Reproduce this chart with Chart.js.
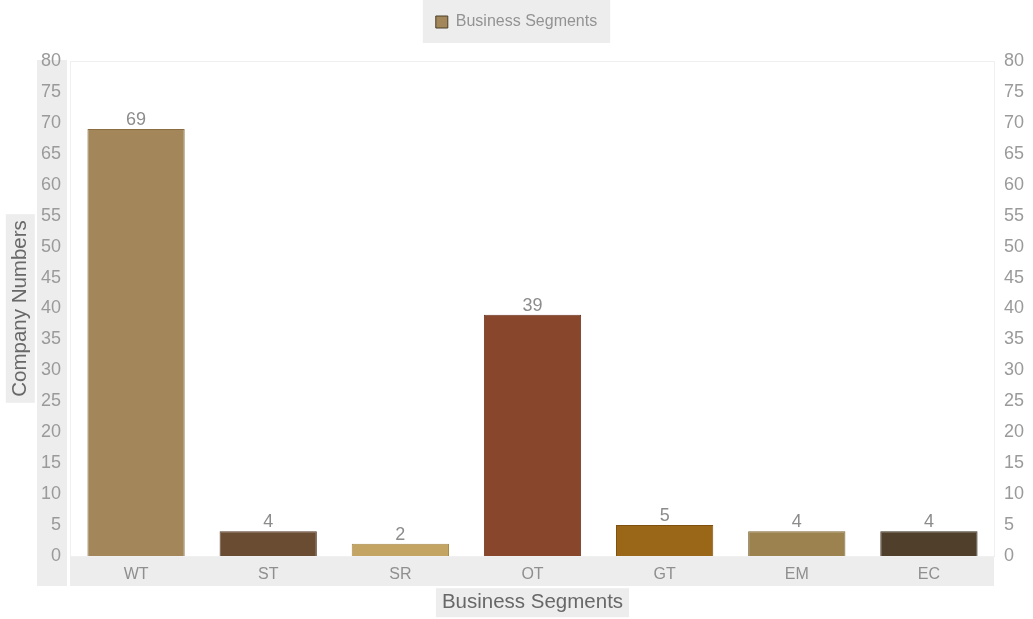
<!DOCTYPE html>
<html>
<head>
<meta charset="utf-8">
<script src="https://cdn.jsdelivr.net/npm/chart.js@4"></script>
<style>
  html, body { margin: 0; padding: 0; background: #ffffff; }
  #wrap { width: 1033px; height: 619px; position: relative; }
</style>
</head>
<body>
<div id="wrap"><canvas id="c" width="1033" height="619"></canvas></div>
<script>
const categories = ['WT', 'ST', 'SR', 'OT', 'GT', 'EM', 'EC'];
const values = [69, 4, 2, 39, 5, 4, 4];
const barColors = ['#a3875a', '#6a4c33', '#c4a462', '#88472c', '#9a6618', '#9b824e', '#4f3f2b'];
const barBorders = ['#8a6e42', '#56392a', '#a88a4a', '#6e3420', '#7e5010', '#7f6838', '#3a2e1e'];
const yTicks = [0, 5, 10, 15, 20, 25, 30, 35, 40, 45, 50, 55, 60, 65, 70, 75, 80];
const seriesName = 'Business Segments';
const xTitle = 'Business Segments';
const yTitle = 'Company Numbers';

const FONT = "'Liberation Sans', Arial, sans-serif";
const GREY = '#ededed';
const TITLE_SIZE = 20.5;

const bgPlugin = {
  id: 'bgPlugin',
  beforeDraw(chart) {
    const ctx = chart.ctx;
    const ca = chart.chartArea;
    const y = chart.scales.y;
    const x = chart.scales.x;
    ctx.save();
    ctx.fillStyle = GREY;
    // legend background
    const lg = chart.legend;
    if (lg && lg.legendHitBoxes && lg.legendHitBoxes.length) {
      const hb = lg.legendHitBoxes[0];
      ctx.fillRect(hb.left - 13, lg.top, hb.width + 26, hb.top + hb.height + 13 - lg.top);
    }
    // left tick column background
    ctx.fillRect(y.right - 33, ca.top - 1, 30, ca.bottom + 30 - (ca.top - 1));
    // bottom tick row background
    ctx.fillRect(ca.left, ca.bottom + 1, ca.right - 1 - ca.left, 29);
    // y title background
    ctx.font = TITLE_SIZE + 'px ' + FONT;
    const yw = ctx.measureText(yTitle).width + 12;
    const ycx = y.left + 8 + TITLE_SIZE * 0.6;
    const ycy = (ca.top + ca.bottom) / 2;
    ctx.fillRect(ycx - 14.5, ycy - yw / 2, 29, yw);
    // x title background
    const xw = ctx.measureText(xTitle).width + 12;
    const xcx = (ca.left + ca.right) / 2;
    const xcy = x.bottom - 4 - TITLE_SIZE * 0.6;
    ctx.fillRect(xcx - xw / 2, xcy - 14.5, xw, 29);
    // plot border
    ctx.strokeStyle = '#f0f0f0';
    ctx.lineWidth = 1;
    ctx.strokeRect(ca.left + 0.5, ca.top + 0.5, ca.right - ca.left - 1, ca.bottom - ca.top);
    ctx.restore();
  },
  afterDatasetsDraw(chart) {
    const ctx = chart.ctx;
    const meta = chart.getDatasetMeta(0);
    ctx.save();
    ctx.font = '18px ' + FONT;
    ctx.fillStyle = '#8c8c8c';
    ctx.textAlign = 'center';
    ctx.textBaseline = 'alphabetic';
    meta.data.forEach((bar, i) => {
      ctx.fillText(String(values[i]), bar.x, bar.y - 4);
    });
    ctx.restore();
  }
};

new Chart(document.getElementById('c'), {
  type: 'bar',
  data: {
    labels: categories,
    datasets: [{
      label: seriesName,
      data: values,
      backgroundColor: barColors,
      borderColor: barBorders,
      borderWidth: 1,
      barPercentage: 0.92,
      categoryPercentage: 0.8,
      yAxisID: 'y'
    }]
  },
  options: {
    responsive: false,
    animation: false,
    layout: { padding: 0 },
    plugins: {
      legend: {
        position: 'top',
        labels: {
          font: { family: FONT, size: 16 },
          color: '#939393',
          boxWidth: 12,
          boxHeight: 12,
          padding: 14,
          generateLabels() {
            return [{ text: seriesName, fillStyle: barColors[0], strokeStyle: '#4a3c28', lineWidth: 1, fontColor: '#939393', datasetIndex: 0 }];
          }
        }
      },
      subtitle: {
        display: true,
        text: '',
        weight: 0,
        padding: 0,
        font: { size: 10, lineHeight: 2.1 }
      },
      tooltip: { enabled: false }
    },
    scales: {
      x: {
        type: 'category',
        position: 'bottom',
        grid: { display: false, drawTicks: false },
        border: { display: false },
        ticks: { font: { family: FONT, size: 16 }, color: '#8f8f8f', padding: 9, maxRotation: 0 },
        title: { display: true, text: xTitle, font: { family: FONT, size: TITLE_SIZE }, color: '#686868', padding: { top: 0, bottom: 4 } },
        afterFit(s) { s.height = 63; }
      },
      y: {
        position: 'left',
        min: 0, max: 80,
        afterBuildTicks(s) { s.ticks = yTicks.map(v => ({ value: v })); },
        grid: { display: false, drawTicks: false },
        border: { display: false },
        ticks: { font: { family: FONT, size: 18 }, color: '#9a9a9a', padding: 9 },
        title: { display: true, text: yTitle, font: { family: FONT, size: TITLE_SIZE }, color: '#686868', padding: { top: 8, bottom: 0 } },
        afterFit(s) { s.width = 70; }
      },
      y2: {
        position: 'right',
        min: 0, max: 80,
        afterBuildTicks(s) { s.ticks = yTicks.map(v => ({ value: v })); },
        grid: { display: false, drawTicks: false },
        border: { display: false },
        ticks: { font: { family: FONT, size: 18 }, color: '#9a9a9a', padding: 9 },
        afterFit(s) { s.width = 38; }
      }
    }
  },
  plugins: [bgPlugin]
});
</script>
</body>
</html>
